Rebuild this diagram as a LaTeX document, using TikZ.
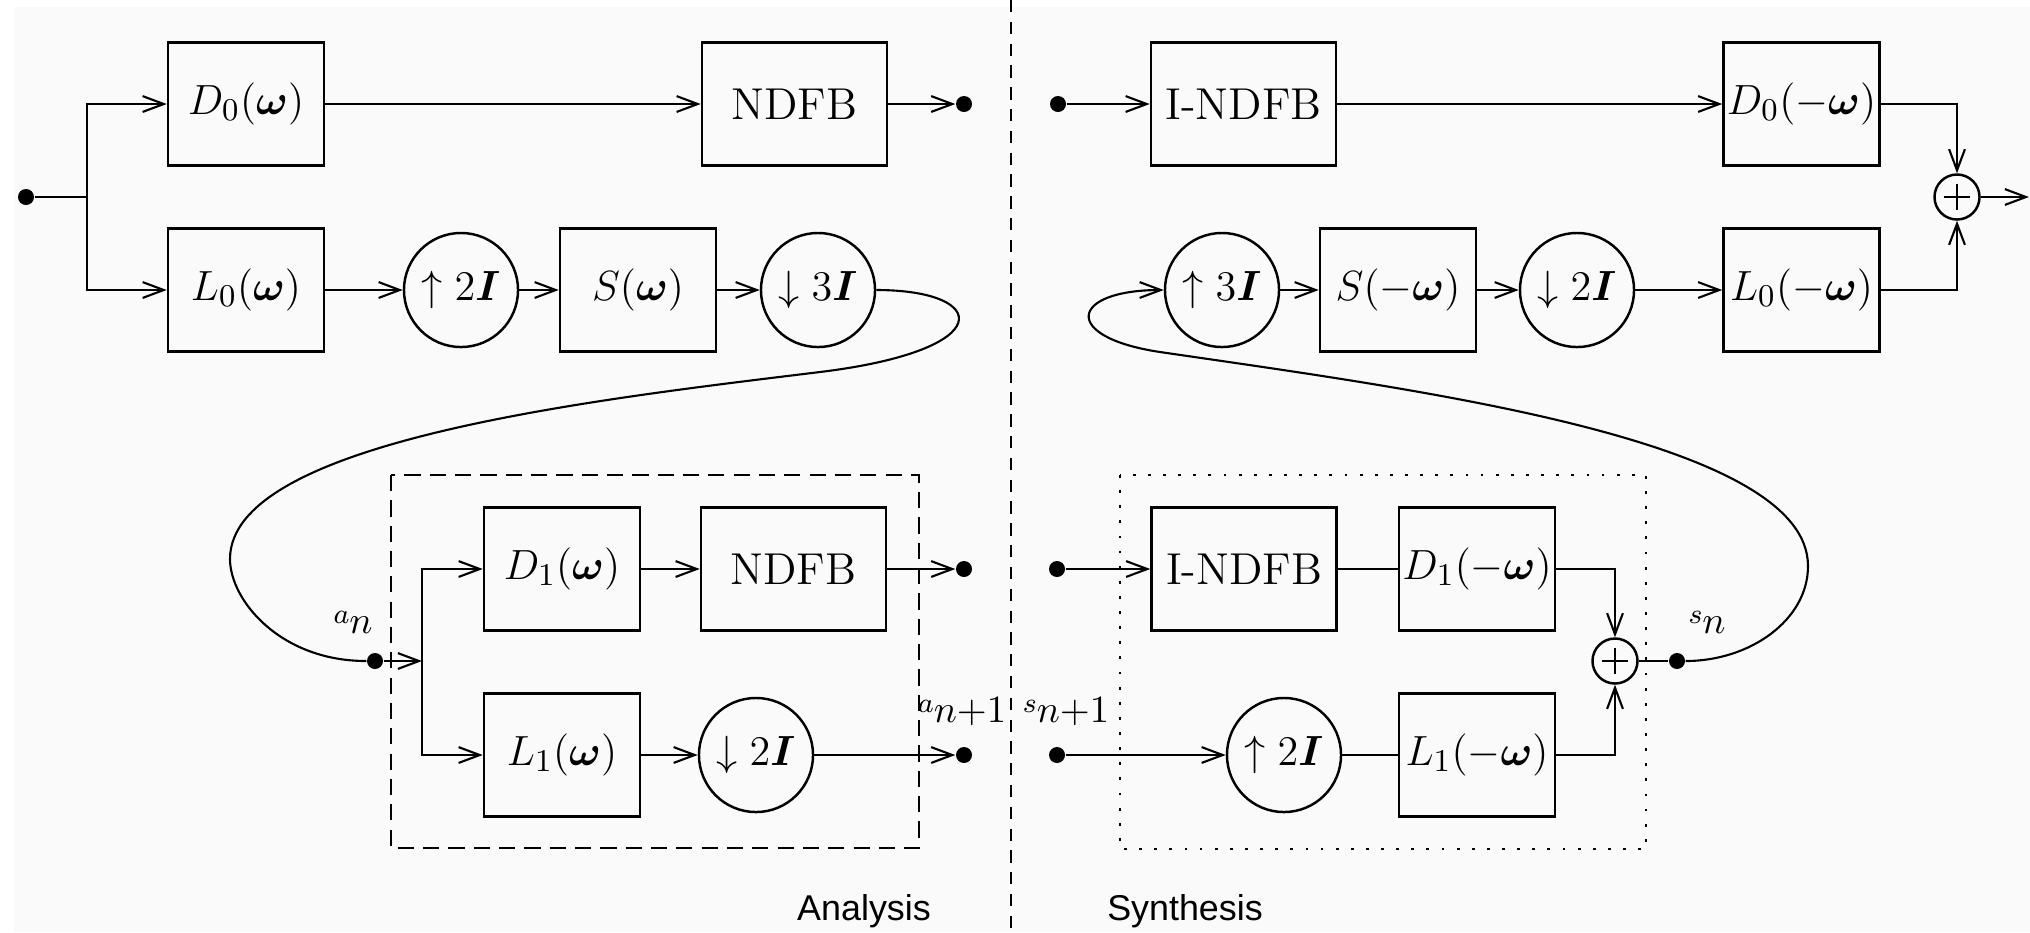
\documentclass[tikz,border=0pt]{standalone}
\usepackage{fontspec}
\usepackage{bm}
\newfontfamily\lsans{Liberation Sans}
\usetikzlibrary{arrows.meta}
\definecolor{bgc}{RGB}{250,250,250}
\newcommand{\smlbl}[2]{\raisebox{2.8pt}{\fontsize{7.8}{9}\selectfont$#1$}{\fontsize{10.8}{12}\selectfont$#2$}}
\begin{document}
\begin{tikzpicture}[x=0.01cm,y=-0.01cm,
  line/.style={line width=0.6pt},
  conn/.style={line width=0.6pt,-{Straight Barb[length=6pt,width=4.5pt]}},
  blk/.style={draw,line width=0.7pt,minimum width=1.56cm,minimum height=1.23cm,inner sep=0pt,font=\fontsize{12.7}{14}\selectfont},
  wblk/.style={blk,minimum width=1.85cm},
  rate/.style={draw,circle,line width=0.7pt,minimum size=1.14cm,inner sep=0pt,font=\fontsize{12.7}{14}\selectfont},
  sumnode/.style={draw,circle,line width=0.7pt,minimum size=0.45cm,inner sep=0pt,
    path picture={\draw[line width=0.6pt] ([yshift=3.8pt]path picture bounding box.center) -- ([yshift=-3.8pt]path picture bounding box.center)
      ([xshift=-3.8pt]path picture bounding box.center) -- ([xshift=3.8pt]path picture bounding box.center);}},
  dot/.style={circle,fill,inner sep=0pt,minimum size=0.16cm},
  lbl/.style={inner sep=0pt},
  captext/.style={font=\lsans\fontsize{10.2}{12}\selectfont,inner sep=0pt},
  dashbox/.style={line width=0.8pt,dash pattern=on 4.6pt off 2.6pt},
  dotbox/.style={line width=0.8pt,dash pattern=on 0.8pt off 3.5pt},
  divider/.style={line width=0.7pt,dash pattern=on 3.5pt off 2.7pt}]
\useasboundingbox (0,0) rectangle (2030,932);
\fill[bgc] (14,7) rectangle (2030,932);
% divider
\coordinate (divtop) at (1011,0);
\coordinate (divbot) at (1011,932);
\draw[divider] (divtop) -- (divbot);
% ---------- analysis, top ----------
\node[dot] (in) at (26,197) {};
\coordinate (br0) at (87,197);
\node[blk] (D0) at (246,104) {$D_0(\bm{\omega})$};
\node[wblk] (N0) at (794.5,104) {NDFB};
\node[dot] (o0) at (964,104) {};
\node[blk] (L0) at (246,290) {$L_0(\bm{\omega})$};
\node[rate] (u2) at (461,290) {$\uparrow 2\bm{I}$};
\node[blk] (S) at (638,290) {$S(\bm{\omega})$};
\node[rate] (d3) at (818,290) {$\downarrow 3\bm{I}$};
% ---------- synthesis, top ----------
\node[dot] (i0) at (1058,104) {};
\node[wblk] (IN0) at (1243.5,104) {I-NDFB};
\node[blk] (D0s) at (1801.5,104) {$D_0(-\bm{\omega})$};
\node[sumnode] (sum0) at (1957,197) {};
\coordinate (out) at (2029,197);
\node[rate] (u3) at (1222,290) {$\uparrow 3\bm{I}$};
\node[blk] (Ss) at (1398,290) {$S(-\bm{\omega})$};
\node[rate] (d2s) at (1577,290) {$\downarrow 2\bm{I}$};
\node[blk] (L0s) at (1801.5,290) {$L_0(-\bm{\omega})$};
% ---------- analysis, bottom ----------
\draw[dashbox] (391,475) rectangle (919,848);
\node[dot] (an) at (375,661) {};
\coordinate (br1) at (422,661);
\node[blk] (D1) at (562,569) {$D_1(\bm{\omega})$};
\node[wblk] (N1) at (793.5,569) {NDFB};
\node[dot] (o1) at (964,569) {};
\node[blk] (L1) at (562,755) {$L_1(\bm{\omega})$};
\node[rate] (d2) at (756,755) {$\downarrow 2\bm{I}$};
\node[dot] (o2) at (964,755) {};
\node[lbl] (lan) at (353,622) {\smlbl{a}{n}};
\node[lbl] (lan1) at (962,712) {\smlbl{a}{n{+}1}};
% ---------- synthesis, bottom ----------
\draw[dotbox] (1120,475) rectangle (1646,849);
\node[dot] (i1) at (1057,569) {};
\node[wblk] (IN1) at (1244,569) {I-NDFB};
\node[blk] (D1s) at (1477,569) {$D_1(-\bm{\omega})$};
\node[sumnode] (sum1) at (1615,661) {};
\node[dot] (sn) at (1677,661) {};
\node[dot] (i2) at (1057,755) {};
\node[rate] (u2s) at (1284,755) {$\uparrow 2\bm{I}$};
\node[blk] (L1s) at (1477,755) {$L_1(-\bm{\omega})$};
\node[lbl] (lsn) at (1707,622) {\smlbl{s}{n}};
\node[lbl] (lsn1) at (1066,712) {\smlbl{s}{n{+}1}};
% captions
\node[captext] (ana) at (864,911) {Analysis};
\node[captext] (syn) at (1185,911) {Synthesis};
% ---------- connectors ----------
\draw[line] (in) -- (br0);
\draw[conn] (br0) |- (D0.west);
\draw[conn] (br0) |- (L0.west);
\draw[conn] (D0) -- (N0);
\draw[conn] (N0) -- (o0);
\draw[conn] (L0) -- (u2);
\draw[conn] (u2) -- (S);
\draw[conn] (S) -- (d3);
\draw[conn] (i0) -- (IN0);
\draw[conn] (IN0) -- (D0s);
\draw[conn] (D0s.east) -| (sum0.north);
\draw[conn] (L0s.east) -| (sum0.south);
\draw[conn] (sum0) -- (out);
\draw[conn] (u3) -- (Ss);
\draw[conn] (Ss) -- (d2s);
\draw[conn] (d2s) -- (L0s);
\draw[line] (d3.east) .. controls (990,290) and (1000,350) .. (820,372)
  .. controls (600,399) and (230,440) .. (230,559)
  .. controls (230,600) and (280,661) .. (an);
\draw[conn] (an) -- (br1);
\draw[conn] (br1) |- (D1.west);
\draw[conn] (br1) |- (L1.west);
\draw[conn] (D1) -- (N1);
\draw[conn] (N1) -- (o1);
\draw[conn] (L1) -- (d2);
\draw[conn] (d2) -- (o2);
\draw[conn] (i1) -- (IN1);
\draw[line] (IN1) -- (D1s);
\draw[conn] (i2) -- (u2s);
\draw[line] (u2s) -- (L1s);
\draw[conn] (D1s.east) -| (sum1.north);
\draw[conn] (L1s.east) -| (sum1.south);
\draw[line] (sum1) -- (sn);
\draw[conn] (sn) .. controls (1750,661) and (1808,620) .. (1808,566)
  .. controls (1808,440) and (1420,390) .. (1160,352)
  .. controls (1060,337) and (1070,290) .. (u3.west);
\end{tikzpicture}
\end{document}
